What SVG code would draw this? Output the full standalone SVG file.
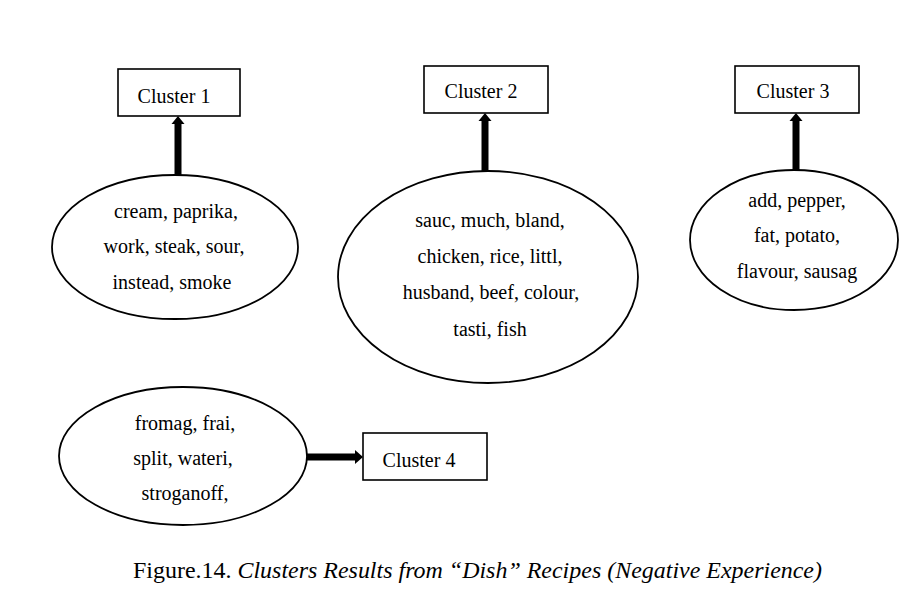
<svg xmlns="http://www.w3.org/2000/svg" width="904" height="611" viewBox="0 0 904 611">
<style>
.box{fill:#fff;stroke:#000;stroke-width:1.6}
.ell{fill:#fff;stroke:#000;stroke-width:1.8}
.t{font-family:"Liberation Serif","Times New Roman",serif;font-size:20px;fill:#000;text-anchor:middle}
.shaft{stroke:#000;stroke-width:7;fill:none}
.head{fill:#000}
.cap{font-family:"Liberation Serif","Times New Roman",serif;font-size:24px;fill:#000}
</style>
<rect width="904" height="611" fill="#fff"/>
<g id="connectors">
<line class="shaft" x1="178" y1="176" x2="178" y2="123"/>
<polygon class="head" points="178,116 171.5,124 184.5,124"/>
<line class="shaft" x1="485" y1="173" x2="485" y2="120"/>
<polygon class="head" points="485,113 478.5,121 491.5,121"/>
<line class="shaft" x1="796" y1="171" x2="796" y2="120"/>
<polygon class="head" points="796,113 789.5,121 802.5,121"/>
<line class="shaft" x1="306" y1="457" x2="356" y2="457"/>
<polygon class="head" points="363,457 355,450 355,464"/>
</g>
<g id="cluster1">
<rect class="box" x="118" y="69" width="122" height="47"/>
<text class="t" x="174" y="103">Cluster 1</text>
</g>
<g id="cluster2">
<rect class="box" x="424" y="66" width="124" height="47"/>
<text class="t" x="481" y="98">Cluster 2</text>
</g>
<g id="cluster3">
<rect class="box" x="735" y="66" width="124" height="47"/>
<text class="t" x="793" y="98">Cluster 3</text>
</g>
<g id="cluster4">
<rect class="box" x="363" y="433" width="124" height="47"/>
<text class="t" x="419" y="467">Cluster 4</text>
</g>
<g id="words1">
<ellipse class="ell" cx="175" cy="247" rx="123" ry="72"/>
<text class="t" x="176" y="218">cream, paprika,</text>
<text class="t" x="174" y="253">work, steak, sour,</text>
<text class="t" x="172" y="289">instead, smoke</text>
</g>
<g id="words2">
<ellipse class="ell" cx="488" cy="277" rx="150" ry="106"/>
<text class="t" x="490" y="227">sauc, much, bland,</text>
<text class="t" x="490" y="263">chicken, rice, littl,</text>
<text class="t" x="491" y="299">husband, beef, colour,</text>
<text class="t" x="490" y="336">tasti, fish</text>
</g>
<g id="words3">
<ellipse class="ell" cx="794" cy="240" rx="104" ry="70"/>
<text class="t" x="797" y="207">add, pepper,</text>
<text class="t" x="797" y="242">fat, potato,</text>
<text class="t" x="797" y="278">flavour, sausag</text>
</g>
<g id="words4">
<ellipse class="ell" cx="183" cy="456" rx="124" ry="69"/>
<text class="t" x="185" y="430">fromag, frai,</text>
<text class="t" x="183" y="465">split, wateri,</text>
<text class="t" x="185" y="500">stroganoff,</text>
</g>
<text class="cap" x="133" y="578" textLength="689" lengthAdjust="spacingAndGlyphs">Figure.14. <tspan font-style="italic">Clusters Results from “Dish” Recipes (Negative Experience)</tspan></text>
</svg>
